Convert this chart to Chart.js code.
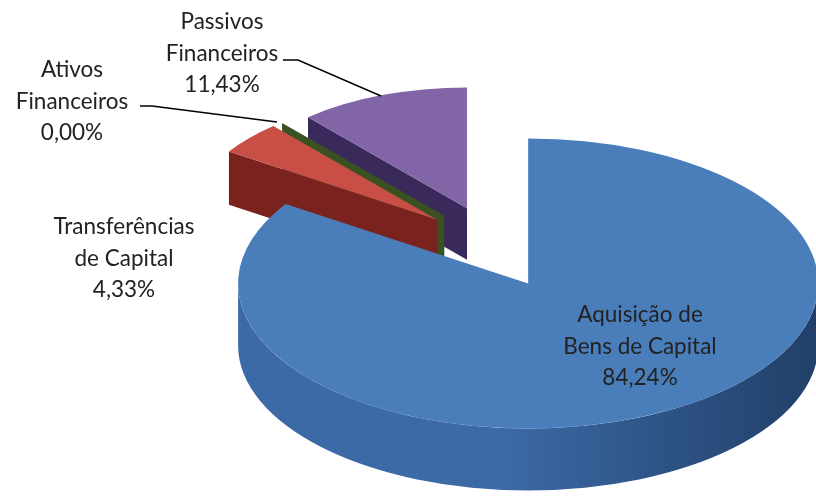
<!DOCTYPE html>
<html lang="pt">
<head>
<meta charset="utf-8">
<script src="https://cdn.jsdelivr.net/npm/chart.js@4.4.0/dist/chart.umd.min.js"></script>
<style>
  html, body { margin: 0; padding: 0; background: #fff; }
  #grafico { display: block; }
</style>
</head>
<body>
<canvas id="grafico" width="816" height="498"></canvas>
<script>
// Dados: composição das despesas de capital (%)
const categorias = [
  ['Aquisição de', 'Bens de Capital'],
  ['Transferências', 'de Capital'],
  ['Ativos', 'Financeiros'],
  ['Passivos', 'Financeiros']
];
const valores = [84.24, 4.33, 0.00, 11.43];

// Cores: face de cima e laterais (claro -> escuro)
const coresTopo = ['#4a7ebb', '#c94f46', '#9bbb59', '#8265a6'];
const coresLado = ['#3b6aa6', '#7a221e', '#3a5222', '#3a2a5c'];
const coresLadoEsc = ['#213f68', '#6a1a17', '#2f451b', '#2e2149'];

// Geometria do efeito 3D
const CX = 493, CY = 247;            // centro antes de explodir
const RAIO_X = 266.6, ACHAT = 0.5;   // raio horizontal e achatamento
const EXPLODE = 74, ACHAT_EXP = 0.56, PERSP = 0.1, PROF = 57;

// centro da 1a linha de cada rótulo e linhas de chamada
const posRotulos = [[640, 315], [124, 227], [72, 70], [222, 22]];
const chamadas = [null, null,
  [[140, 106], [152, 106], [277, 122]],
  [[283, 60], [298, 60], [381, 96]]];

function pct(v) {
  return v.toFixed(2).replace('.', ',') + '%';
}

function desenhaLados(ctx, f) {
  const {el, ax, ay, rx, ry, d} = f;
  const a0 = el.startAngle, a1 = el.endAngle;
  const P = t => [ax + rx * Math.cos(t), ay + ry * Math.sin(t)];

  const parede = (t) => {
    const p = P(t);
    ctx.beginPath();
    ctx.moveTo(ax, ay);
    ctx.lineTo(p[0], p[1]);
    ctx.lineTo(p[0], p[1] + d);
    ctx.lineTo(ax, ay + d);
    ctx.closePath();
    ctx.fillStyle = coresLado[f.i];
    ctx.fill();
  };
  if (Math.cos(a0) < 0) parede(a0);
  if (a1 > a0 && Math.cos(a1) > 0) parede(a1);

  // parede curva, só a parte da frente
  const grad = ctx.createLinearGradient(ax - rx, 0, ax + rx, 0);
  grad.addColorStop(0, coresLado[f.i]);
  grad.addColorStop(0.45, coresLado[f.i]);
  grad.addColorStop(1, coresLadoEsc[f.i]);
  for (let k = -1; k <= 1; k++) {
    const lo = Math.max(a0, k * 2 * Math.PI);
    const hi = Math.min(a1, k * 2 * Math.PI + Math.PI);
    if (hi <= lo) continue;
    ctx.beginPath();
    ctx.ellipse(ax, ay, rx, ry, 0, lo, hi);
    ctx.ellipse(ax, ay + d, rx, ry, 0, hi, lo, true);
    ctx.closePath();
    ctx.fillStyle = grad;
    ctx.fill();
  }
}

function desenhaTopo(ctx, f) {
  const {el, ax, ay, rx, ry} = f;
  ctx.save();
  ctx.translate(ax, ay);
  ctx.scale(rx / el.outerRadius, ry / el.outerRadius);
  ctx.translate(-el.x, -el.y);
  el.draw(ctx);
  ctx.restore();
}

const pizza3d = {
  id: 'pizza3d',
  beforeDatasetsDraw(chart) {
    const ctx = chart.ctx;
    const fatias = chart.getDatasetMeta(0).data.map((el, i) => {
      const m = (el.startAngle + el.endAngle) / 2;
      const s = 1 + PERSP * Math.sin(m);
      return {
        el, i,
        ax: CX + EXPLODE * Math.cos(m),
        ay: CY + EXPLODE * ACHAT_EXP * Math.sin(m),
        rx: RAIO_X * s, ry: RAIO_X * ACHAT * s, d: PROF * s
      };
    }).sort((a, b) => a.ay - b.ay);
    fatias.forEach(f => { desenhaLados(ctx, f); desenhaTopo(ctx, f); });
  },
  beforeDatasetDraw() {
    return false; // já desenhado acima
  },
  afterDatasetsDraw(chart) {
    const ctx = chart.ctx;
    ctx.save();
    ctx.strokeStyle = '#000';
    ctx.lineWidth = 1.5;
    chamadas.forEach(c => {
      if (!c) return;
      ctx.beginPath();
      ctx.moveTo(c[0][0], c[0][1]);
      c.slice(1).forEach(p => ctx.lineTo(p[0], p[1]));
      ctx.stroke();
    });
    ctx.font = '22.5px Lato';
    ctx.textAlign = 'center';
    ctx.textBaseline = 'middle';
    ctx.fillStyle = '#222';
    categorias.forEach((linhas, i) => {
      const [x, y] = posRotulos[i];
      linhas.concat([pct(valores[i])]).forEach((t, j) => {
        ctx.fillText(t, x, y + j * 31.5);
      });
    });
    ctx.restore();
  }
};

const ctx = document.getElementById('grafico').getContext('2d');
const chart = new Chart(ctx, {
  type: 'pie',
  data: {
    labels: categorias,
    datasets: [{
      data: valores,
      backgroundColor: coresTopo,
      borderWidth: 0
    }]
  },
  options: {
    responsive: false,
    animation: false,
    plugins: {
      legend: { display: false },
      tooltip: { enabled: false }
    }
  },
  plugins: [pizza3d]
});
</script>
</body>
</html>
